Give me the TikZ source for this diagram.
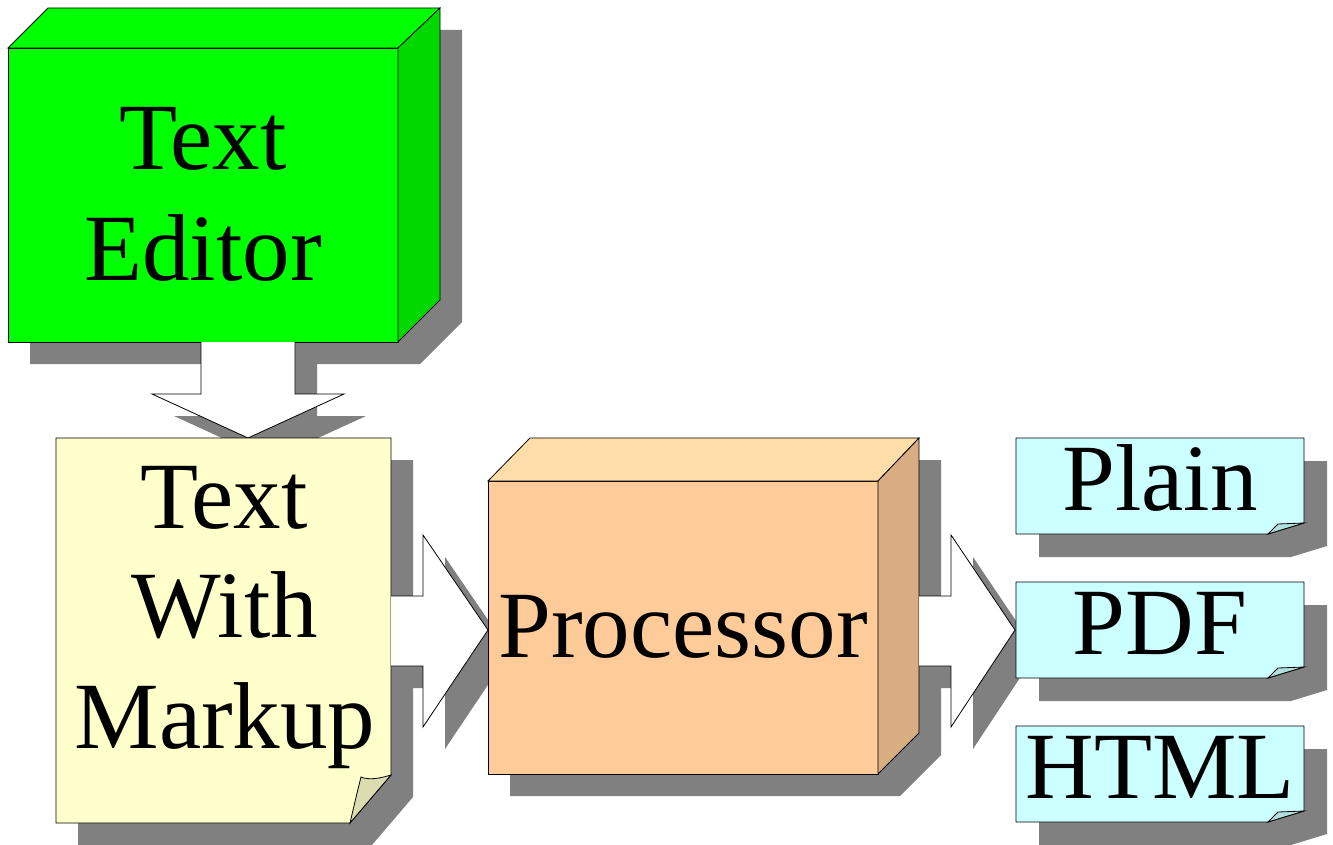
\documentclass[tikz,border=0pt]{standalone}
\usepackage{fontspec}
\setmainfont{Liberation Serif}
\definecolor{shadowgray}{HTML}{808080}
\definecolor{greenfront}{HTML}{00FF00}
\definecolor{greenside}{HTML}{00D800}
\definecolor{procfront}{HTML}{FFCC99}
\definecolor{proctop}{HTML}{FFDDA8}
\definecolor{procside}{HTML}{D9AD82}
\definecolor{notefill}{HTML}{FFFFCC}
\definecolor{noteflap}{HTML}{DDDCB0}
\definecolor{outfill}{HTML}{CCFFFF}
\definecolor{outflap}{HTML}{B0E0E0}
\begin{document}
\begin{tikzpicture}[x=1pt,y=-1pt,line join=miter,
  shade/.style={fill=shadowgray,draw=none},
  edge/.style={draw=black,line width=0.8pt},
  lbl/.style={font=\fontsize{95}{110}\selectfont,anchor=base,inner sep=0pt}]
\useasboundingbox (0,0) rectangle (1333,845);
% ---------- shadows ----------
\begin{scope}[shift={(22,22)}]
  \fill[shadowgray] (8,48)--(48,8)--(440,8)--(440,300)--(398,342)--(8,342)--cycle;
  \fill[shadowgray] (201,342)--(201,394)--(152,394)--(248,438)--(344,394)--(295,394)--(295,342)--cycle;
  \fill[shadowgray] (56,438)--(391,438)--(391,775)--(350,823)--(56,823)--cycle;
  \fill[shadowgray] (391,596)--(423,596)--(423,535)--(488,630)--(423,727)--(423,666)--(391,666)--cycle;
  \fill[shadowgray] (488,481)--(530,438)--(919,438)--(919,733)--(878,774)--(488,774)--cycle;
  \fill[shadowgray] (919,596)--(951,596)--(951,535)--(1015,630)--(951,727)--(951,666)--(919,666)--cycle;
\end{scope}
\begin{scope}[shift={(23,23)}]
  \foreach \y in {438,582,726}{
    \fill[shadowgray] (1016,\y)--(1304,\y)--(1304,\y+85)--(1268,\y+96)--(1016,\y+96)--cycle;
  }
\end{scope}
% ---------- Text Editor box ----------
\filldraw[edge,fill=greenfront] (8,48) rectangle (398,342);
\filldraw[edge,fill=greenfront] (8,48)--(48,8)--(440,8)--(398,48)--cycle;
\filldraw[edge,fill=greenside] (398,48)--(440,8)--(440,300)--(398,342)--cycle;
\node[lbl] (te1) at (203,170) {Text};
\node[lbl] (te2) at (203,280) {Editor};
% ---------- down arrow ----------
\fill[white] (201,342)--(201,394)--(152,394)--(248,438)--(344,394)--(295,394)--(295,342)--cycle;
\draw[edge] (201,342)--(201,394)--(152,394)--(248,438)--(344,394)--(295,394)--(295,342);
% ---------- note ----------
\filldraw[edge,fill=notefill] (56,438)--(391,438)--(391,775)--(350,823)--(56,823)--cycle;
\filldraw[edge,fill=noteflap] (391,775) .. controls (378,779) and (368,780) .. (361,777) .. controls (357,793) .. (350,823)--cycle;
\node[lbl] (n1) at (224,528) {Text};
\node[lbl] (n2) at (225,637) {With};
\node[lbl] (n3) at (225,748) {Markup};
% ---------- arrow 1 ----------
\fill[white] (391,596)--(423,596)--(423,535)--(488,630)--(423,727)--(423,666)--(391,666)--cycle;
\draw[edge] (391,596)--(423,596)--(423,535)--(488,630)--(423,727)--(423,666)--(391,666);
% ---------- Processor box ----------
\filldraw[edge,fill=procfront] (488,481) rectangle (878,774);
\filldraw[edge,fill=proctop] (488,481)--(530,438)--(919,438)--(878,481)--cycle;
\filldraw[edge,fill=procside] (878,481)--(919,438)--(919,733)--(878,774)--cycle;
\node[lbl] (proc) at (683,657) {Processor};
% ---------- arrow 2 ----------
\fill[white] (919,596)--(951,596)--(951,535)--(1015,630)--(951,727)--(951,666)--(919,666)--cycle;
\draw[edge] (919,596)--(951,596)--(951,535)--(1015,630)--(951,727)--(951,666)--(919,666);
% ---------- output notes ----------
\foreach \y/\t/\n in {438/Plain/plain,582/PDF/pdf,726/HTML/html}{
  \filldraw[edge,fill=outfill] (1016,\y)--(1304,\y)--(1304,\y+85)--(1268,\y+96)--(1016,\y+96)--cycle;
  \filldraw[edge,fill=outflap] (1304,\y+85)--(1278,\y+86)--(1268,\y+96)--cycle;
  \node[lbl] (\n) at (1160,\y+72) {\t};
}
\end{tikzpicture}
\end{document}
